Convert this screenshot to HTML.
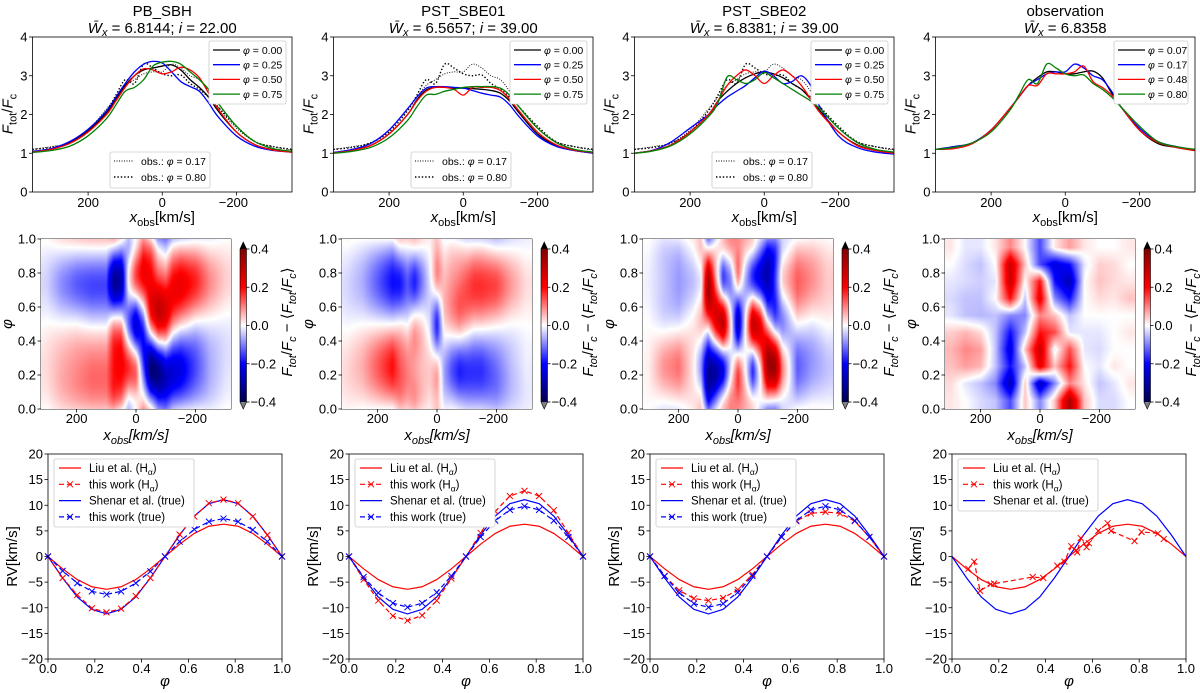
<!DOCTYPE html>
<html><head><meta charset="utf-8">
<style>
html,body{margin:0;padding:0;background:#fff;}
#wrap{position:relative;width:1200px;height:693px;overflow:hidden;font-family:"Liberation Sans","DejaVu Sans",sans-serif;}
svg text{font-family:"Liberation Sans","DejaVu Sans",sans-serif;fill:#000;}
canvas{position:absolute;}
</style></head>
<body>
<div id="wrap">
<svg id="svg" width="1200" height="693" style="position:absolute;left:0;top:0"></svg>
</div>
<script>
// ---------- DATA ----------
const profileVelocities = [350,300,250,200,150,125,100,75,50,25,0,-25,-50,-75,-100,-125,-150,-200,-250,-300,-350];
const modelPhases = [0.00,0.25,0.50,0.75];
const obsPhases = [0.07,0.17,0.48,0.80];
const panelTitles = ["PB_SBH","PST_SBE01","PST_SBE02","observation"];
const panelWx = ["6.8144","6.5657","6.8381","6.8358"];
const panelIncl = ["22.00","39.00","39.00",null];

const pbsbhPhi000 = [1.04,1.10,1.27,1.58,2.05,2.40,2.75,3.00,3.15,3.20,3.25,3.28,3.15,2.90,2.70,2.45,2.10,1.55,1.22,1.09,1.04];
const pbsbhPhi025 = [1.05,1.12,1.30,1.62,2.10,2.45,2.80,3.10,3.30,3.37,3.33,3.10,2.85,2.72,2.60,2.30,1.95,1.45,1.18,1.07,1.03];
const pbsbhPhi050 = [1.03,1.10,1.25,1.55,2.00,2.35,2.70,3.00,3.18,3.15,3.05,3.10,3.22,3.15,2.95,2.55,2.15,1.55,1.22,1.08,1.03];
const pbsbhPhi075 = [1.02,1.07,1.18,1.45,1.90,2.25,2.60,2.70,2.90,3.25,3.35,3.37,3.30,3.10,2.90,2.65,2.30,1.70,1.30,1.12,1.05];

const sbe01Phi000 = [1.01,1.08,1.20,1.50,2.00,2.38,2.63,2.70,2.70,2.68,2.68,2.67,2.65,2.62,2.55,2.35,2.05,1.50,1.20,1.07,1.01];
const sbe01Phi025 = [1.02,1.10,1.25,1.60,2.15,2.45,2.68,2.72,2.72,2.70,2.68,2.62,2.55,2.50,2.45,2.25,1.95,1.45,1.18,1.07,1.00];
const sbe01Phi050 = [1.01,1.07,1.20,1.50,2.00,2.35,2.60,2.70,2.70,2.65,2.50,2.70,2.70,2.70,2.62,2.40,2.10,1.55,1.22,1.08,1.02];
const sbe01Phi075 = [1.00,1.05,1.15,1.40,1.85,2.20,2.50,2.52,2.60,2.65,2.70,2.72,2.72,2.72,2.68,2.50,2.20,1.65,1.28,1.10,1.03];

const sbe02Phi000 = [1.00,1.07,1.22,1.55,2.00,2.35,2.60,2.80,2.95,3.05,3.10,3.05,2.95,2.80,2.65,2.40,2.10,1.55,1.22,1.07,1.00];
const sbe02Phi025 = [1.00,1.08,1.30,1.65,2.00,2.25,2.45,2.60,2.75,2.95,3.12,3.00,2.80,2.85,3.00,2.75,2.20,1.45,1.15,1.03,0.98];
const sbe02Phi050 = [1.00,1.07,1.22,1.55,2.00,2.35,2.75,3.00,3.15,3.00,2.80,3.00,3.15,3.00,2.75,2.40,2.05,1.55,1.20,1.07,1.00];
const sbe02Phi075 = [1.00,1.06,1.20,1.50,1.95,2.30,2.97,2.90,2.80,2.90,3.08,2.95,2.80,2.65,2.50,2.35,2.15,1.65,1.28,1.10,1.03];

const obsPhi007 = [1.10,1.17,1.27,1.60,2.15,2.45,2.75,2.95,3.10,3.10,3.05,3.05,3.10,3.12,2.95,2.55,2.20,1.60,1.25,1.15,1.07];
const obsPhi017 = [1.10,1.17,1.27,1.60,2.15,2.45,2.75,2.90,3.05,3.10,3.10,3.30,3.20,3.00,2.90,2.60,2.20,1.65,1.30,1.17,1.08];
const obsPhi048 = [1.10,1.12,1.25,1.60,2.15,2.45,2.75,2.75,3.05,3.05,3.05,3.10,3.25,2.85,2.70,2.50,2.20,1.60,1.28,1.15,1.07];
const obsPhi080 = [1.10,1.15,1.27,1.55,2.10,2.50,2.90,2.80,3.30,3.20,3.05,3.00,3.02,2.80,2.65,2.45,2.20,1.70,1.30,1.17,1.10];

// observed residual map (phase rows x velocity columns)
const obsMapPhases = [0.05,0.15,0.25,0.35,0.45,0.55,0.65,0.75,0.85,0.95];
const obsMapVelocities = [300,250,200,150,100,50,0,-50,-100,-150,-200,-250,-300];
const obsMapRows = [
 [0.02,0,-0.03,-0.05,-0.15,0.05,-0.1,0.05,0.35,0.05,-0.03,-0.03,0],
 [0.03,-0.02,-0.05,-0.1,-0.3,0.05,-0.3,-0.1,0.1,0.02,-0.05,-0.02,0.02],
 [0.05,0.08,0.06,-0.05,-0.2,-0.05,0.25,0.05,0.2,0.0,-0.02,0.02,0],
 [0.06,0.1,0.08,-0.05,-0.25,0.05,0.3,-0.02,0.15,-0.02,-0.03,0,0],
 [0.04,0.06,0.03,-0.05,-0.2,-0.05,0.2,0.15,-0.02,-0.02,-0.02,0,0.02],
 [-0.02,-0.05,-0.06,-0.05,-0.1,-0.1,0.1,0.05,-0.05,0,0,0,0],
 [-0.03,-0.05,-0.05,0.0,0.2,-0.05,0.25,-0.1,-0.2,0,0.03,0.02,0.05],
 [-0.02,-0.03,-0.04,-0.02,0.3,0.0,0.2,-0.2,-0.3,0,0.05,0.03,0.02],
 [0,-0.03,-0.05,0.0,0.3,0.05,-0.15,-0.25,-0.2,-0.02,0.04,0.03,0],
 [0.02,-0.02,-0.02,0.02,0.1,0.0,-0.15,0.02,0.08,0.02,0.0,0.0,0.02]
];

// RV curves
const rvPhases = [0,0.0625,0.125,0.1875,0.25,0.3125,0.375,0.4375,0.5,0.5625,0.625,0.6875,0.75,0.8125,0.875,0.9375,1];
const rvLiu = [0,-2.4,-4.5,-5.9,-6.4,-5.9,-4.5,-2.4,0,2.4,4.5,5.9,6.3,5.9,4.5,2.4,0];
const rvShenar = [0,-4.2,-7.9,-10.3,-11.2,-10.3,-7.9,-4.2,0,4.2,7.9,10.3,11.1,10.3,7.9,4.2,0];
const rvPbHa = [0,-4.2,-7.5,-10.1,-10.9,-10.2,-7.7,-4.2,0,4.3,7.8,10.4,11.1,10.4,7.8,4.2,0];
const rvPbTrue = [0,-2.8,-5.2,-6.8,-7.4,-6.8,-5.2,-2.9,0,2.9,5.3,6.8,7.4,6.8,5.2,2.9,0];
const rvSbe01Ha = [0,-4.5,-8.6,-11.6,-12.5,-11.5,-8.6,-4.3,0,4.6,8.8,11.8,12.8,11.8,9.0,4.6,0];
const rvSbe01True = [0,-4.0,-7.1,-9.1,-9.9,-9.1,-7.0,-3.8,0,3.8,7.0,9.1,9.8,9.1,7.0,3.8,0];
const rvSbe02Ha = [0,-3.8,-6.6,-8.2,-8.6,-8.1,-6.5,-3.5,0,3.8,6.9,8.4,8.7,8.4,6.9,3.8,0];
const rvSbe02True = [0,-3.8,-7.1,-9.2,-9.9,-9.2,-7.0,-3.8,0,3.8,7.0,9.1,9.8,9.1,7.0,3.8,0];
const rvObsPhases = [0.07,0.095,0.12,0.165,0.18,0.345,0.39,0.45,0.48,0.51,0.53,0.535,0.55,0.575,0.585,0.625,0.665,0.68,0.78,0.81,0.88,0.905];
const rvObsHa = [-2.4,-1,-6.7,-5.4,-5.3,-4,-4.2,-1.8,-1,2,1.2,0.8,3.6,1.8,2.6,5,6.5,5,3,4.8,4.5,3.4];

const profileTickLabels = ["200","0","\u2212200"];
const profileTickValues = [200,0,-200];
const fluxTicks = [0,1,2,3,4];
const phaseTicks = [0,0.2,0.4,0.6,0.8,1.0];
const rvTicks = [-20,-15,-10,-5,0,5,10,15,20];
const cbarTicks = [-0.4,-0.2,0,0.2,0.4];

// ---------- HELPERS ----------
const NS="http://www.w3.org/2000/svg";
const svg=document.getElementById('svg');
function mk(tag,attrs,parent){const e=document.createElementNS(NS,tag);for(const k in attrs)e.setAttribute(k,attrs[k]);(parent||svg).appendChild(e);return e;}
function lin(d0,d1,r0,r1){return v=>r0+(v-d0)*(r1-r0)/(d1-d0);}
function smoothPath(pts){
  let d=`M${pts[0][0].toFixed(2)},${pts[0][1].toFixed(2)}`;
  for(let i=0;i<pts.length-1;i++){
    const p0=pts[Math.max(0,i-1)],p1=pts[i],p2=pts[i+1],p3=pts[Math.min(pts.length-1,i+2)];
    const c1=[p1[0]+(p2[0]-p0[0])/6,p1[1]+(p2[1]-p0[1])/6];
    const c2=[p2[0]-(p3[0]-p1[0])/6,p2[1]-(p3[1]-p1[1])/6];
    d+=`C${c1[0].toFixed(2)},${c1[1].toFixed(2)} ${c2[0].toFixed(2)},${c2[1].toFixed(2)} ${p2[0].toFixed(2)},${p2[1].toFixed(2)}`;
  }
  return d;
}
function txt(x,y,s,attrs,parent){const t=mk('text',Object.assign({x:x,y:y},attrs||{}),parent);t.textContent=s;return t;}
function fluxLabel(g,x,y,rot,italic){
  const t=mk('text',{x:0,y:0,'font-size':15,'text-anchor':'middle',transform:`translate(${x},${y}) rotate(${rot})`},g);
  const parts=italic?[["F",0],["tot",1],["/",0],["F",0],["c",1],[" \u2212 \u27E8",0],["F",0],["tot",1],["/",0],["F",0],["c",1],["\u27E9",0]]:[["F",0],["tot",1],["/",0],["F",0],["c",1]];
  let sub=false;
  parts.forEach(p=>{const ts=mk('tspan',{},t);ts.textContent=p[0];
    if(p[0].indexOf('F')>=0 || (italic&&p[1]))ts.setAttribute('font-style','italic');
    if(p[1]&&!sub){ts.setAttribute('dy',4);ts.setAttribute('font-size',11);sub=true;}
    else if(!p[1]&&sub){ts.setAttribute('dy',-4);sub=false;}
    else if(p[1]) ts.setAttribute('font-size',11);
  });
  return t;
}
function xobsLabel(g,x,y,italicAll){
  const t=mk('text',{x:x,y:y,'font-size':15,'text-anchor':'middle'},g);
  const a=mk('tspan',{'font-style':'italic'},t);a.textContent='x';
  const b=mk('tspan',{dy:4,'font-size':11,'font-style':italicAll?'italic':'normal'},t);b.textContent='obs';
  const c=mk('tspan',{dy:-4,'font-style':italicAll?'italic':'normal'},t);c.textContent='[km/s]';
  return t;
}
const seismic=[[0,0,0.3],[0,0,1],[1,1,1],[1,0,0],[0.5,0,0]];
function cmap(v){ // v in -0.42..0.42
  let t=(v+0.42)/0.84;t=Math.max(0,Math.min(1,t));
  const s=t*4,i=Math.min(3,Math.floor(s)),f=s-i;
  return seismic[i].map((c,k)=>Math.round(255*(c+(seismic[i+1][k]-c)*f)));
}
function interpArr(xs,ys,x){
  for(let i=0;i<xs.length-1;i++){
    const a=xs[i],b=xs[i+1];
    if((x<=a&&x>=b)||(x>=a&&x<=b)){const f=(x-a)/(b-a);return ys[i]+(ys[i+1]-ys[i])*f;}
  }
  return (Math.abs(x-xs[0])<Math.abs(x-xs[xs.length-1]))?ys[0]:ys[ys.length-1];
}

const colOff=[0,301,602,903];
const modelSets=[[pbsbhPhi000,pbsbhPhi025,pbsbhPhi050,pbsbhPhi075],[sbe01Phi000,sbe01Phi025,sbe01Phi050,sbe01Phi075],[sbe02Phi000,sbe02Phi025,sbe02Phi050,sbe02Phi075],[obsPhi007,obsPhi017,obsPhi048,obsPhi080]];
const lineColors=['#000000','#0000ff','#ff0000','#008000'];

// ---------- ROW 1 : profiles ----------
for(let c=0;c<4;c++){
  const o=colOff[c], L=32.5+o, R=292+o, T=37, B=192;
  const g=mk('g',{});
  
  const X=lin(350,-350,L,R), Y=lin(0,4,B,T);
  const t1=txt((L+R)/2,16,panelTitles[c],{'font-size':15,'text-anchor':'middle'},g);
  
  const t2=mk('text',{x:(L+R)/2,y:33,'font-size':15,'text-anchor':'middle'},g);
  
  let s=mk('tspan',{'font-style':'italic'},t2);s.textContent='W\u0304';
  s=mk('tspan',{'font-style':'italic','font-size':11,dy:3},t2);s.textContent='x';
  s=mk('tspan',{dy:-3},t2);s.textContent=' = '+panelWx[c]+(panelIncl[c]?'; ':'');
  if(panelIncl[c]){s=mk('tspan',{'font-style':'italic'},t2);s.textContent='i';s=mk('tspan',{},t2);s.textContent=' = '+panelIncl[c];}
  const cid='clip1'+c;
  const cp=mk('clipPath',{id:cid},g);mk('rect',{x:L,y:T,width:R-L,height:B-T},cp);
  const lines=mk('g',{'clip-path':`url(#${cid})`},g);
  if(c<3){
    const p1=mk('path',{d:smoothPath(profileVelocities.map((v,i)=>[X(v),Y(obsPhi017[i])])),fill:'none',stroke:'#000','stroke-width':0.9,'stroke-dasharray':'1,1.5'},lines);
    
    const p2=mk('path',{d:smoothPath(profileVelocities.map((v,i)=>[X(v),Y(obsPhi080[i])])),fill:'none',stroke:'#000','stroke-width':1.4,'stroke-dasharray':'1.4,2'},lines);
    
  }
  modelSets[c].forEach((arr,k)=>{
    const p=mk('path',{d:smoothPath(profileVelocities.map((v,i)=>[X(v),Y(arr[i])])),fill:'none',stroke:lineColors[k],'stroke-width':1.3},lines);
    
  });
  mk('rect',{x:L,y:T,width:R-L,height:B-T,fill:'none',stroke:'#000','stroke-width':0.8},g);
  profileTickValues.forEach((v,i)=>{mk('line',{x1:X(v),x2:X(v),y1:B,y2:B+3.5,stroke:'#000','stroke-width':0.8},g);
    const tl=txt(X(v)+(v<0?-3:0),207,profileTickLabels[i],{'font-size':13,'text-anchor':'middle'},g);
    });
  fluxTicks.forEach(v=>{mk('line',{x1:L-3.5,x2:L,y1:Y(v),y2:Y(v),stroke:'#000','stroke-width':0.8},g);
    const tl=txt(L-5,Y(v)+4.5,String(v),{'font-size':13,'text-anchor':'end'},g);
    });
  const xl=xobsLabel(g,(L+R)/2,222,false);
  const yl=fluxLabel(g,L-20,114,-90,false);
  const lx=(c===3?1114:209+o), ly=41;
  const lg=mk('g',{},g);
  mk('rect',{x:lx,y:ly,width:(c===3?74:77),height:63,fill:'#fff',stroke:'#ccc','stroke-width':0.8,rx:2},lg);
  const phs=c<3?modelPhases:obsPhases;
  phs.forEach((ph,k)=>{const yy=50+k*14.7;
    const e=mk('g',{},lg);
    mk('line',{x1:lx+4,x2:lx+31,y1:yy,y2:yy,stroke:lineColors[k],'stroke-width':1.3},e);
    const tt=mk('text',{x:lx+34,y:yy+3.8,'font-size':10.5},e);
    const a=mk('tspan',{'font-style':'italic'},tt);a.textContent='\u03C6';const b=mk('tspan',{},tt);b.textContent=' = '+ph.toFixed(2);
  });
  if(c<3){
    const og=mk('g',{},g);
    const ox=110+o;
    mk('rect',{x:ox,y:152,width:100,height:36,fill:'#fff',stroke:'#ccc','stroke-width':0.8,rx:2},og);
    [['0.17',0.9,'1,1.5'],['0.80',1.4,'1.4,2']].forEach((d,k)=>{const yy=161+k*16;
      mk('line',{x1:ox+4,x2:ox+24,y1:yy,y2:yy,stroke:'#000','stroke-width':d[1],'stroke-dasharray':d[2]},og);
      const tt=mk('text',{x:ox+31,y:yy+3.8,'font-size':10.5},og);
      let a=mk('tspan',{},tt);a.textContent='obs.: ';a=mk('tspan',{'font-style':'italic'},tt);a.textContent='\u03C6';a=mk('tspan',{},tt);a.textContent=' = '+d[0];
    });
  }
}

// ---------- ROW 2 : residual maps ----------
for(let c=0;c<4;c++){
  const o=colOff[c]+(c===3?1:0), L=41+o, R=231+o, T=239, B=409;
  const W=Math.round(R-L), H=B-T;
  const cv=document.createElement('canvas');cv.width=W;cv.height=H;
  cv.style.left=L+'px';cv.style.top=T+'px';
  
  
  document.getElementById('wrap').appendChild(cv);
  const ctx=cv.getContext('2d');const img=ctx.createImageData(W,H);
  const vX=lin(0,W,320,-320), pY=lin(0,H,1,0);
  const set=modelSets[c];
  for(let px=0;px<W;px++){
    const v=vX(px+0.5);
    let F,a1,b1,a2;
    if(c<3){F=set.map(a=>interpArr(profileVelocities,a,v));a1=(F[0]-F[2])/2;b1=(F[1]-F[3])/2;a2=(F[0]-F[1]+F[2]-F[3])/4;}
    const colv=obsMapRows.map(r=>interpArr(obsMapVelocities,r,v));
    for(let py=0;py<H;py++){
      const ph=pY(py+0.5);let d;
      if(c<3){d=1.35*(a1*Math.cos(2*Math.PI*ph)+b1*Math.sin(2*Math.PI*ph)+a2*Math.cos(4*Math.PI*ph));}
      else{d=interpArr(obsMapPhases,colv,ph);}
      const col=cmap(d);const idx=(py*W+px)*4;
      img.data[idx]=col[0];img.data[idx+1]=col[1];img.data[idx+2]=col[2];img.data[idx+3]=255;
    }
  }
  ctx.putImageData(img,0,0);
  const g=mk('g',{});
  const X=lin(320,-320,L,R), Y=lin(0,1,B,T);
  mk('rect',{x:L,y:T,width:R-L,height:B-T,fill:'none',stroke:'#000','stroke-width':0.8},g);
  profileTickValues.forEach((v,i)=>{mk('line',{x1:X(v),x2:X(v),y1:B,y2:B+3.5,stroke:'#000','stroke-width':0.8},g);
    const tl=txt(X(v)+(v<0?-3:0),423,profileTickLabels[i],{'font-size':13,'text-anchor':'middle'},g);
    });
  phaseTicks.forEach(v=>{mk('line',{x1:L-3.5,x2:L,y1:Y(v),y2:Y(v),stroke:'#000','stroke-width':0.8},g);
    const tl=txt(L-5,Y(v)+4.5,v.toFixed(1),{'font-size':13,'text-anchor':'end'},g);
    });
  const yl=txt(0,0,'\u03C6',{'font-size':15,'font-style':'italic','text-anchor':'middle',transform:`translate(${L-29},${(T+B)/2}) rotate(-90)`},g);
  
  const xl=xobsLabel(g,(L+R)/2,440,true);
  // colorbar
  const cx=240+o, cw=6.5, cT=249, cB=402;
  const cb=mk('g',{},g);
  const CY=lin(-0.4,0.4,cB,cT);
  const CV=lin(cB,cT,-0.4,0.4);
  for(let y=cT;y<cB;y+=1){const val=CV(y+0.5);const col=cmap(val*1.05);
    mk('rect',{x:cx,y:y,width:cw,height:1.05,fill:`rgb(${col[0]},${col[1]},${col[2]})`},cb);}
  mk('path',{d:`M${cx},${cT} L${cx+cw/2},${cT-7} L${cx+cw},${cT} Z`,fill:'#000'},cb);
  mk('path',{d:`M${cx},${cB} L${cx+cw/2},${cB+7} L${cx+cw},${cB} Z`,fill:'#808080'},cb);
  mk('path',{d:`M${cx},${cT} L${cx+cw/2},${cT-7} L${cx+cw},${cT} L${cx+cw},${cB} L${cx+cw/2},${cB+7} L${cx},${cB} Z`,fill:'none',stroke:'#000','stroke-width':0.6},cb);
  cbarTicks.forEach(v=>{mk('line',{x1:cx+cw,x2:cx+cw+3,y1:CY(v),y2:CY(v),stroke:'#000','stroke-width':0.8},cb);
    const tl=txt(cx+cw+4,CY(v)+4.5,(v<0?'\u2212':'')+Math.abs(v).toFixed(1),{'font-size':13},cb);
    });
  const cl=fluxLabel(g,cx+52,322,-90,true);
}

// ---------- ROW 3 : RV curves ----------
const rvSets=[[rvPbHa,rvPbTrue],[rvSbe01Ha,rvSbe01True],[rvSbe02Ha,rvSbe02True],null];
for(let c=0;c<4;c++){
  const o=colOff[c]+(c===3?1:0), L=48+o, R=282+o, T=454, B=659;
  const g=mk('g',{});
  const X=lin(0,1,L,R), Y=lin(-20,20,B,T);
  const pl=(ph,vals)=>ph.map((p,i)=>`${X(p).toFixed(2)},${Y(vals[i]).toFixed(2)}`).join(' ');
  const lLiu=mk('polyline',{points:pl(rvPhases,rvLiu),fill:'none',stroke:'#ff0000','stroke-width':1.2},g);
  
  const lSh=mk('polyline',{points:pl(rvPhases,rvShenar),fill:'none',stroke:'#0000ff','stroke-width':1.2},g);
  
  const marks=(ph,vals,color,name)=>{
    const l=mk('polyline',{points:pl(ph,vals),fill:'none',stroke:color,'stroke-width':1.2,'stroke-dasharray':'5,3'},g);
    
    ph.forEach((p,i)=>{const x=X(p),y=Y(vals[i]);
      const m=mk('path',{d:`M${x-3},${y-3}L${x+3},${y+3}M${x-3},${y+3}L${x+3},${y-3}`,stroke:color,'stroke-width':1},g);
      });
  };
  if(c<3){marks(rvPhases,rvSets[c][0],'#ff0000','this-work-halpha');marks(rvPhases,rvSets[c][1],'#0000ff','this-work-true');}
  else marks(rvObsPhases,rvObsHa,'#ff0000','this-work-halpha');
  mk('rect',{x:L,y:T,width:R-L,height:B-T,fill:'none',stroke:'#000','stroke-width':0.8},g);
  phaseTicks.forEach(v=>{mk('line',{x1:X(v),x2:X(v),y1:B,y2:B+3.5,stroke:'#000','stroke-width':0.8},g);
    const tl=txt(X(v),673,v.toFixed(1),{'font-size':13,'text-anchor':'middle'},g);
    });
  rvTicks.forEach(v=>{mk('line',{x1:L-3.5,x2:L,y1:Y(v),y2:Y(v),stroke:'#000','stroke-width':0.8},g);
    const tl=txt(L-5,Y(v)+4.5,(v<0?'\u2212':'')+Math.abs(v),{'font-size':13,'text-anchor':'end'},g);
    });
  const xl=txt((L+R)/2,686,'\u03C6',{'font-size':15,'font-style':'italic','text-anchor':'middle'},g);
  
  const yl=txt(0,0,'RV[km/s]',{'font-size':15,'text-anchor':'middle',transform:`translate(${L-31},${(T+B)/2}) rotate(-90)`},g);
  
  const lg=mk('g',{},g);
  const lx=L+6, n=c<3?4:3;
  mk('rect',{x:lx,y:459,width:140,height:n===4?68:52,fill:'#fff',stroke:'#ccc','stroke-width':0.8,rx:2},lg);
  const ents=[['Liu et al. (H','#ff0000',0],['this work (H','#ff0000',1],['Shenar et al. (true)','#0000ff',0],['this work (true)','#0000ff',1]];
  for(let k=0;k<n;k++){const yy=468+k*16.3, e=ents[k];
    const eg=mk('g',{},lg);
    mk('line',{x1:lx+5,x2:lx+27,y1:yy,y2:yy,stroke:e[1],'stroke-width':1.2,'stroke-dasharray':e[2]?'5,3':'none'},eg);
    if(e[2])mk('path',{d:`M${lx+13},${yy-3}L${lx+19},${yy+3}M${lx+13},${yy+3}L${lx+19},${yy-3}`,stroke:e[1],'stroke-width':1},eg);
    const tt=mk('text',{x:lx+35,y:yy+4,'font-size':11.5},eg);
    let a=mk('tspan',{},tt);a.textContent=e[0];
    if(e[0].endsWith('(H')){a=mk('tspan',{dy:3,'font-size':8.5},tt);a.textContent='\u03B1';a=mk('tspan',{dy:-3},tt);a.textContent=')';}
  }
}
</script>
</body></html>
